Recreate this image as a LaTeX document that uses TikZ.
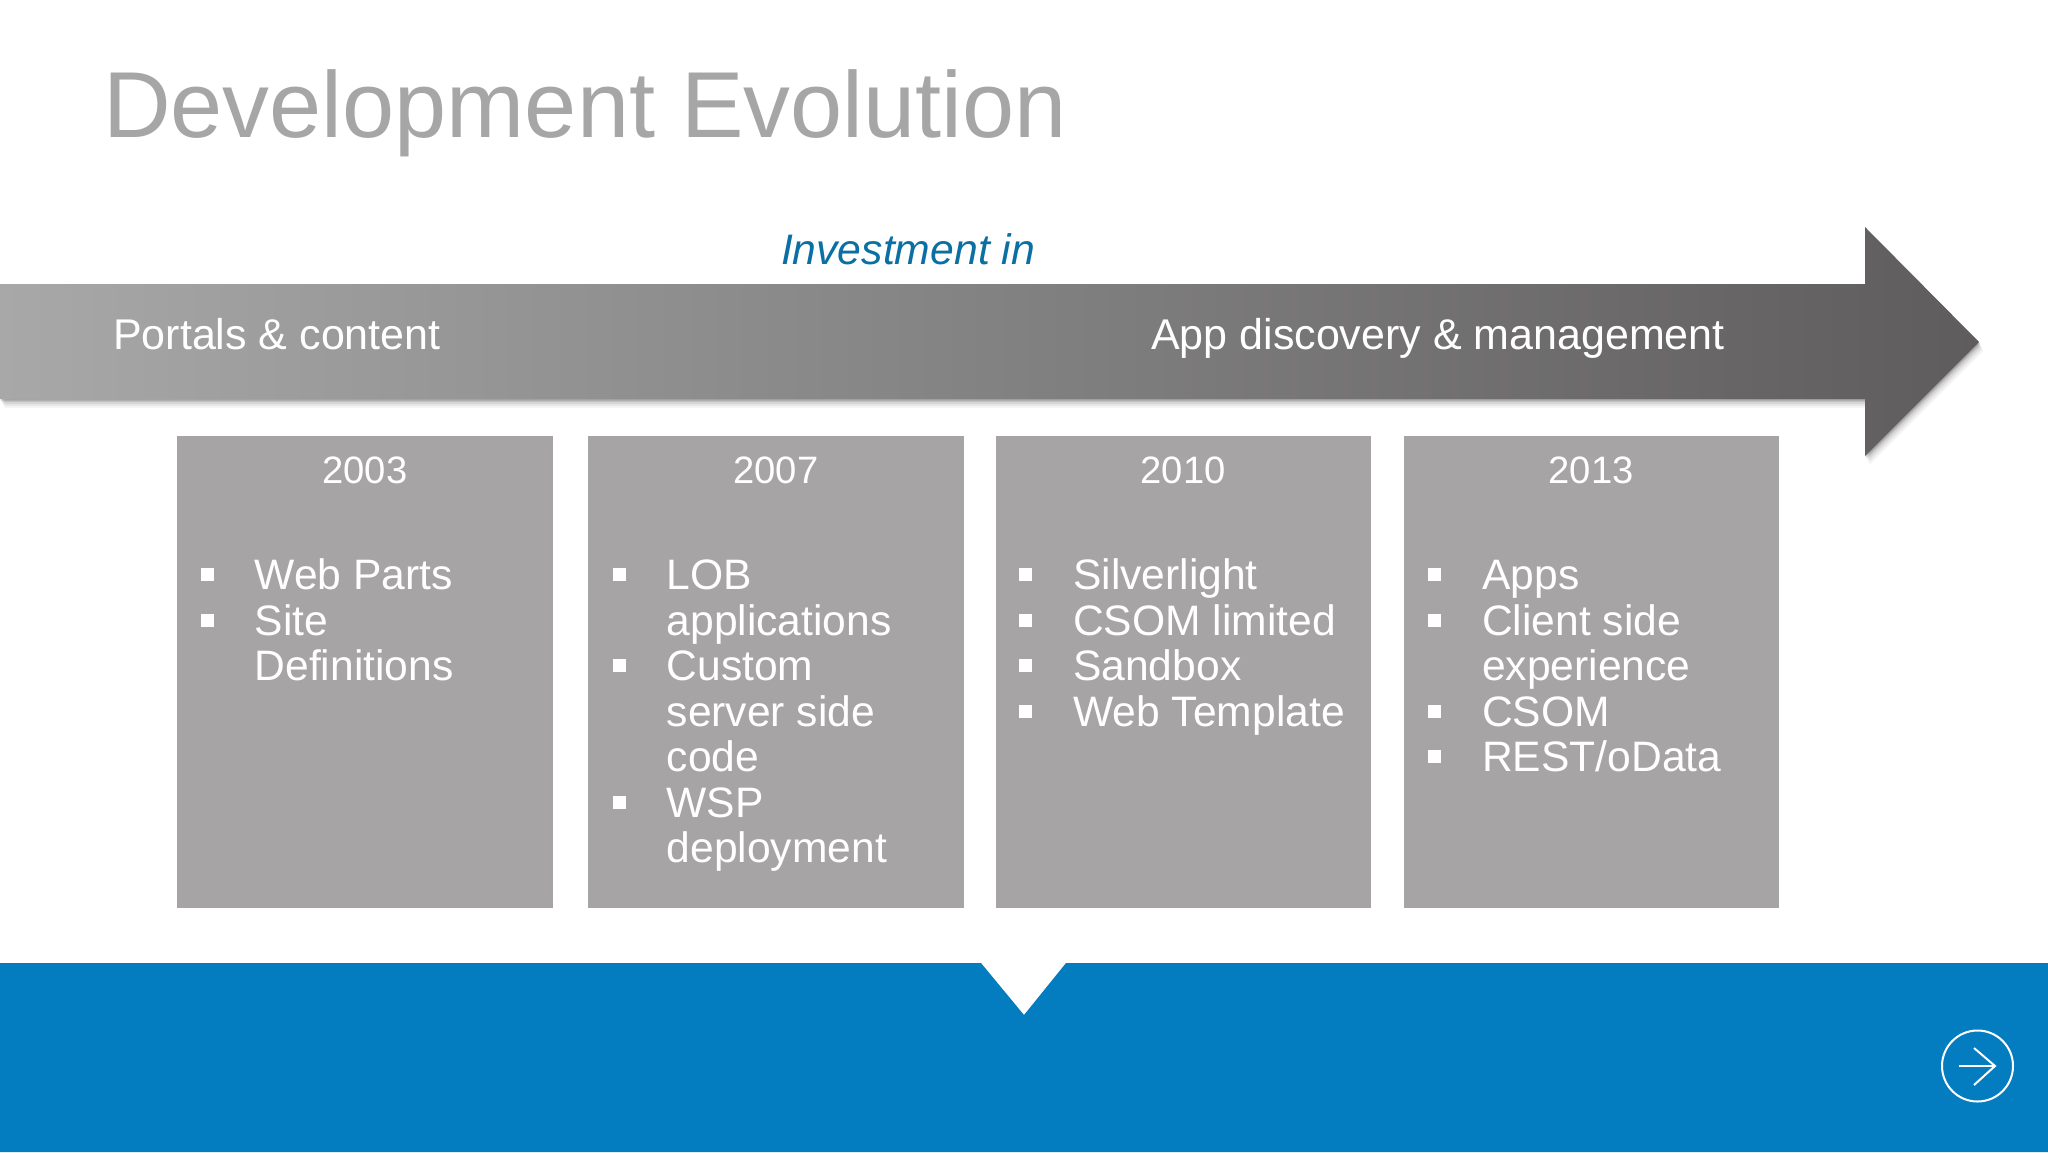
\documentclass[tikz,border=0pt]{standalone}
\usepackage{fontspec}
\setmainfont{Liberation Sans}
\definecolor{boxgrey}{HTML}{A6A4A5}
\definecolor{titlegrey}{HTML}{A6A6A6}
\definecolor{barleft}{HTML}{A8A8A8}
\definecolor{barmid}{HTML}{8F8D8D}
\definecolor{barright}{HTML}{5E5C5D}
\definecolor{bandblue}{HTML}{047DC0}
\definecolor{invblue}{HTML}{0A6FA3}
\tikzset{
  page/.style={x=1pt,y=-1pt},
  titletext/.style={anchor=base west,inner sep=0pt,text=titlegrey,font=\fontsize{93.7}{100}\selectfont},
  bartext/.style={anchor=base west,inner sep=0pt,text=white,font=\fontsize{43}{48}\selectfont},
  investtext/.style={anchor=base,inner sep=0pt,text=invblue,font=\fontsize{42.7}{48}\selectfont\itshape},
  yearbox/.style={anchor=north west,minimum width=375.5pt,minimum height=472pt,inner sep=0pt,fill=boxgrey},
  yeartext/.style={anchor=base,inner sep=0pt,text=white,font=\fontsize{38.2}{44}\selectfont},
  itemtext/.style={anchor=base west,inner sep=0pt,text=white,font=\fontsize{42.6}{46}\selectfont},
  bulletmark/.style={anchor=center,inner sep=0pt,minimum size=13pt,fill=white},
}
\def\arrowpath{(0,284) -- (1865,284) -- (1865,227) -- (1979,342) -- (1865,456) -- (1865,399) -- (0,399) -- cycle}
\begin{document}
\begin{tikzpicture}[page]
\useasboundingbox (0,0) rectangle (2048,1152);
\fill[white] (0,0) rectangle (2048,1152);

\node[titletext] (title) at (103,137) {Development Evolution};

% arrow with soft shadow
\foreach \d/\o in {9/0.04,7/0.05,5/0.07,3/0.10,1.5/0.14}{
  \fill[black,opacity=\o,shift={(\d*0.5,\d)}] \arrowpath;
}
\shade[left color=barleft,middle color=barmid,right color=barright] \arrowpath;

\node[investtext] (invest) at (908,264.5) {Investment in};
\node[bartext] (portals) at (113,349) {Portals \& content};
\node[bartext] (apps) at (1151,349) {App discovery \& management};

% boxes
\node[yearbox] (box1) at (177,436) {};
\node[yearbox] (box2) at (588,436) {};
\node[yearbox] (box3) at (995.5,436) {};
\node[yearbox] (box4) at (1403.5,436) {};

\node[yeartext] (y1) at (365,483) {2003};
\node[yeartext] (y2) at (776,483) {2007};
\node[yeartext] (y3) at (1183,483) {2010};
\node[yeartext] (y4) at (1591,483) {2013};

% column 1
\node[bulletmark] (b11) at (207,574) {};
\node[bulletmark] (b12) at (207,620) {};
\node[itemtext] (t11) at (254.5,589.5) {Web Parts};
\node[itemtext] (t12) at (254.5,635) {Site};
\node[itemtext] (t13) at (254.5,680.5) {Definitions};

% column 2
\node[bulletmark] (b21) at (619.5,574) {};
\node[bulletmark] (b22) at (619.5,665.5) {};
\node[bulletmark] (b23) at (619.5,802) {};
\node[itemtext] (t21) at (666.5,589.5) {LOB};
\node[itemtext] (t22) at (666.5,635) {applications};
\node[itemtext] (t23) at (666.5,680.5) {Custom};
\node[itemtext] (t24) at (666.5,726) {server side};
\node[itemtext] (t25) at (666.5,771.5) {code};
\node[itemtext] (t26) at (666.5,817) {WSP};
\node[itemtext] (t27) at (666.5,862.5) {deployment};

% column 3
\node[bulletmark] (b31) at (1025.5,574) {};
\node[bulletmark] (b32) at (1025.5,620) {};
\node[bulletmark] (b33) at (1025.5,665.5) {};
\node[bulletmark] (b34) at (1025.5,711) {};
\node[itemtext] (t31) at (1073,589.5) {Silverlight};
\node[itemtext] (t32) at (1073,635) {CSOM limited};
\node[itemtext] (t33) at (1073,680.5) {Sandbox};
\node[itemtext] (t34) at (1073,726) {Web Template};

% column 4
\node[bulletmark] (b41) at (1434,574) {};
\node[bulletmark] (b42) at (1434,620) {};
\node[bulletmark] (b43) at (1434,711) {};
\node[bulletmark] (b44) at (1434,756.5) {};
\node[itemtext] (t41) at (1482,589.5) {Apps};
\node[itemtext] (t42) at (1482,635) {Client side};
\node[itemtext] (t43) at (1482,680.5) {experience};
\node[itemtext] (t44) at (1482,726) {CSOM};
\node[itemtext] (t45) at (1482,771.5) {REST/oData};

% blue band with notch
\fill[bandblue] (0,963) -- (981,963) -- (1024,1015) -- (1066,963) -- (2048,963) -- (2048,1152) -- (0,1152) -- cycle;

% next button
\node[draw=white,line width=2pt,circle,minimum size=71pt,inner sep=0pt] (next) at (1977.5,1066) {};
\draw[white,line width=2.6pt] (1959,1066) -- (1994,1066);
\draw[white,line width=2pt] (1974,1048) -- (1995,1066) -- (1974,1085);
\end{tikzpicture}
\end{document}
